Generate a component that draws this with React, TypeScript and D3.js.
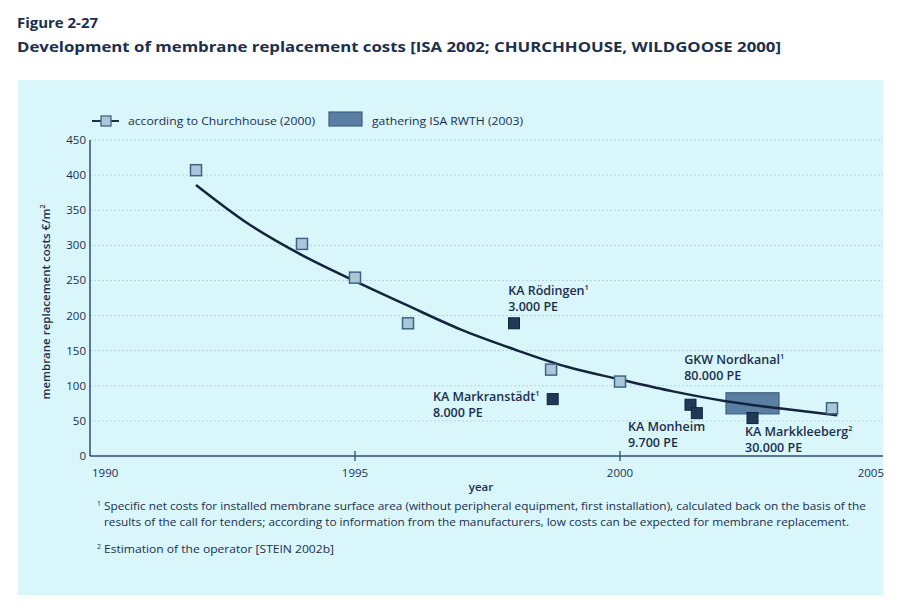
import React from "react";
import { scaleLinear, line, curveMonotoneX, range } from "d3";

// Churchhouse (2000) survey points
const churchYears = [1992, 1994, 1995, 1996, 1998.7, 2000, 2004];
const churchCosts = [407, 302, 254, 189, 123, 106, 68];

// trend curve
const trendYears = [1992, 1993, 1994, 1995, 1996, 1997, 1998, 1999, 2000, 2001, 2002, 2003, 2004.1];
const trendCosts = [386, 330, 286, 249, 214, 180, 152, 127, 109, 92, 78, 68, 58];

// ISA RWTH (2003) plants
const plantYears = [1998, 1998.73, 2001.33, 2001.45, 2002.5];
const plantCosts = [189, 81, 73, 61, 54];

// GKW Nordkanal range box
const boxYears = [2002, 2003];
const boxCosts = [60, 90];

// plant annotations
const labelNames = ["KA Rödingen", "KA Markranstädt", "GKW Nordkanal", "KA Monheim", "KA Markkleeberg"];
const labelPE = ["3.000 PE", "8.000 PE", "80.000 PE", "9.700 PE", "30.000 PE"];
const labelNotes = ["1", "1", "1", "", "2"];
const labelYears = [1997.89, 1996.47, 2001.21, 2000.15, 2002.36];
const labelCosts = [229, 79, 131, 35.6, 28.5];

const yTicks = range(0, 451, 50);
const xTicks = [1990, 1995, 2000, 2005];

const navy = "#1b2f4d";
const font = "'Open Sans', 'Noto Sans', sans-serif";

export default function App() {
  const x = scaleLinear().domain([1990, 2005]).range([90, 885]);
  const y = scaleLinear().domain([0, 450]).range([456, 140]);

  const trend = line<number>()
    .x((d) => x(trendYears[d]))
    .y((d) => y(trendCosts[d]))
    .curve(curveMonotoneX)(trendYears.map((_, i) => i));

  const sq = 11;

  return (
    <div style={{ position: "absolute", left: 0, top: 0 }}>
      <svg width={904} height={607} style={{ display: "block", fontFamily: font }}>
        <rect width={904} height={607} fill="#ffffff" />
        <rect x={18} y={80} width={865} height={515} fill="#d9f6fb" />

        {/* Title */}
        <text x={17} y={28} fontSize={15} fontWeight={700} fill={navy} textLength={81} lengthAdjust="spacingAndGlyphs">
          Figure 2-27
        </text>
        <text x={17} y={52} fontSize={15} fontWeight={700} fill={navy} textLength={764} lengthAdjust="spacingAndGlyphs">
          Development of membrane replacement costs [ISA 2002; CHURCHHOUSE, WILDGOOSE 2000]
        </text>

        {/* Legend */}
        <line x1={92} x2={119} y1={121} y2={121} stroke={navy} strokeWidth={2} />
        <rect x={106 - 5} y={121 - 5} width={10} height={10} fill="#a9c7d8" stroke="#3e6585" strokeWidth={1.3} />
        <text x={128} y={125} fontSize={11} fill={navy} textLength={187} lengthAdjust="spacingAndGlyphs">
          according to Churchhouse (2000)
        </text>
        <rect x={329} y={112} width={33} height={14} fill="#5b7fa2" stroke="#3e5f80" strokeWidth={1.2} />
        <text x={372} y={125} fontSize={11} fill={navy} textLength={151} lengthAdjust="spacingAndGlyphs">
          gathering ISA RWTH (2003)
        </text>

        {/* Grid */}
        {yTicks.filter((t) => t > 0).map((t) => (
          <line key={`g-${t}`} x1={x(1990)} x2={883} y1={y(t)} y2={y(t)} stroke="#a9cddb" strokeWidth={0.8} strokeDasharray="2,2" />
        ))}

        {/* Axes */}
        <line x1={x(1990)} x2={x(1990)} y1={y(450)} y2={y(0)} stroke="#2d4f70" strokeWidth={1.5} />
        <line x1={x(1990)} x2={883} y1={y(0)} y2={y(0)} stroke="#2d4f70" strokeWidth={1.5} />
        {xTicks.slice(1, 3).map((t) => (
          <line key={`xt-${t}`} x1={x(t)} x2={x(t)} y1={y(0) - 5} y2={y(0) + 5} stroke="#2d4f70" strokeWidth={1.3} />
        ))}
        {yTicks.map((t) => (
          <text key={`yl-${t}`} x={86} y={y(t)} dy="0.35em" textAnchor="end" fontSize={11.5} fill={navy}>
            {t}
          </text>
        ))}
        {xTicks.map((t, i) => (
          <text
            key={`xl-${t}`}
            x={i === 0 ? x(t) + 2 : i === xTicks.length - 1 ? 884 : x(t)}
            y={477}
            textAnchor={i === 0 ? "start" : i === xTicks.length - 1 ? "end" : "middle"}
            fontSize={11.5}
            fill={navy}
          >
            {t}
          </text>
        ))}
        <text x={481} y={491} textAnchor="middle" fontSize={11.5} fontWeight={600} fill={navy}>
          year
        </text>
        <text
          transform={`translate(50,${y(225) + 4}) rotate(-90)`}
          textAnchor="middle"
          fontSize={11.5}
          fontWeight={600}
          fill={navy}
        >
          membrane replacement costs €/m
          <tspan fontSize={7} dy={-5}>2</tspan>
        </text>

        {/* Nordkanal box */}
        <rect
          x={x(boxYears[0])}
          y={y(boxCosts[1])}
          width={x(boxYears[1]) - x(boxYears[0])}
          height={y(boxCosts[0]) - y(boxCosts[1])}
          fill="#5b7fa2"
          stroke="#3e5f80"
          strokeWidth={1.2}
        />

        {/* Trend curve */}
        <path d={trend ?? ""} fill="none" stroke="#15243d" strokeWidth={2.5} />

        {/* Churchhouse squares */}
        {churchYears.map((yr, i) => (
          <rect
            key={`c-${i}`}
            x={x(yr) - sq / 2}
            y={y(churchCosts[i]) - sq / 2}
            width={sq}
            height={sq}
            fill="#a9c7d8"
            stroke="#3e6585"
            strokeWidth={1.5}
          />
        ))}

        {/* ISA plant squares */}
        {plantYears.map((yr, i) => (
          <rect
            key={`p-${i}`}
            x={x(yr) - sq / 2}
            y={y(plantCosts[i]) - sq / 2}
            width={sq}
            height={sq}
            fill="#1f3a58"
            stroke="#122438"
            strokeWidth={1}
          />
        ))}

        {/* Plant labels */}
        {labelNames.map((name, i) => (
          <text key={`l-${i}`} x={x(labelYears[i])} y={y(labelCosts[i])} fontSize={12.5} fontWeight={600} fill={navy}>
            <tspan>
              {name}
              {labelNotes[i] && (
                <tspan fontSize={7.5} dy={-5}>
                  {labelNotes[i]}
                </tspan>
              )}
            </tspan>
            <tspan x={x(labelYears[i])} y={y(labelCosts[i]) + 16}>
              {labelPE[i]}
            </tspan>
          </text>
        ))}

        {/* Footnotes */}
        <text x={97} y={506} fontSize={7} fill={navy}>1</text>
        <text x={104} y={510} fontSize={10.5} fill={navy} textLength={762} lengthAdjust="spacingAndGlyphs">
          Specific net costs for installed membrane surface area (without peripheral equipment, first installation), calculated back on the basis of the
        </text>
        <text x={104} y={526} fontSize={10.5} fill={navy} textLength={745} lengthAdjust="spacingAndGlyphs">
          results of the call for tenders; according to information from the manufacturers, low costs can be expected for membrane replacement.
        </text>
        <text x={97} y={549} fontSize={7} fill={navy}>2</text>
        <text x={104} y={553} fontSize={10.5} fill={navy} textLength={230} lengthAdjust="spacingAndGlyphs">
          Estimation of the operator [STEIN 2002b]
        </text>
      </svg>
    </div>
  );
}
